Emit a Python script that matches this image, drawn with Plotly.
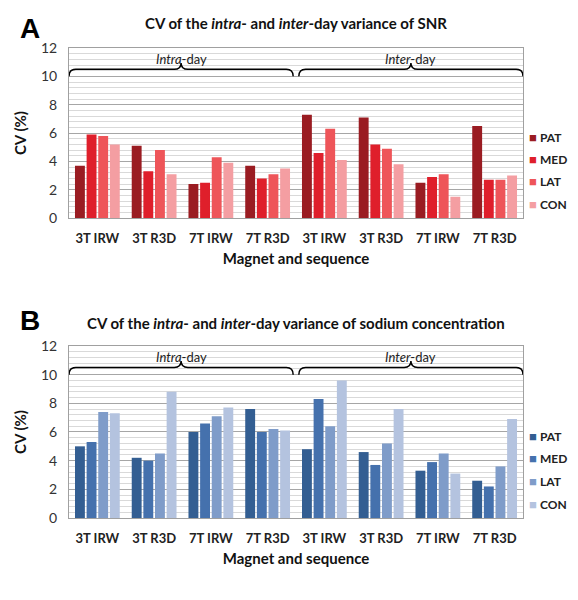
import plotly.graph_objects as go
from plotly.subplots import make_subplots

categories = ["3T IRW", "3T R3D", "7T IRW", "7T R3D", "3T IRW", "3T R3D", "7T IRW", "7T R3D"]
regions = ["PAT", "MED", "LAT", "CON"]

snr_pat = [3.7, 5.1, 2.4, 3.7, 7.3, 7.1, 2.5, 6.5]
snr_med = [5.9, 3.3, 2.5, 2.8, 4.6, 5.2, 2.9, 2.7]
snr_lat = [5.8, 4.8, 4.3, 3.1, 6.3, 4.9, 3.1, 2.7]
snr_con = [5.2, 3.1, 3.9, 3.5, 4.1, 3.8, 1.5, 3.0]

na_pat = [5.0, 4.2, 6.0, 7.6, 4.8, 4.6, 3.3, 2.6]
na_med = [5.3, 4.0, 6.6, 6.0, 8.3, 3.7, 3.9, 2.2]
na_lat = [7.4, 4.5, 7.1, 6.2, 6.4, 5.2, 4.5, 3.6]
na_con = [7.3, 8.8, 7.7, 6.1, 9.6, 7.6, 3.1, 6.9]

y_ticks = [0, 2, 4, 6, 8, 10, 12]
groups = ["<i>Intra</i>-day", "<i>Inter</i>-day"]

red_colors = ["#9A1C22", "#DF1F2B", "#EE5559", "#F49EA2"]
blue_colors = ["#335E92", "#4571AD", "#7F9CC9", "#B4C3DF"]

FONT = "Lato"
x_pos = list(range(len(categories)))

fig = make_subplots(rows=2, cols=1, vertical_spacing=0.27)

for row, series, colors in [
    (1, [snr_pat, snr_med, snr_lat, snr_con], red_colors),
    (2, [na_pat, na_med, na_lat, na_con], blue_colors),
]:
    for name, vals, col in zip(regions, series, colors):
        fig.add_trace(
            go.Bar(x=x_pos, y=vals, name=name, marker_color=col, marker_line_width=0,
                   showlegend=False),
            row=row, col=1,
        )
    xref = "x" if row == 1 else "x2"
    yref = "y" if row == 1 else "y2"
    # braces
    for gi, (x0, x1) in enumerate([(-0.5, 3.45), (3.55, 7.5)]):
        xm = (x0 + x1) / 2
        yb, yl, yt = 10.0, 10.5, 10.95
        d = 0.12
        path = (f"M {x0},{yb} Q {x0},{yl} {x0+d},{yl} L {xm-d},{yl} "
                f"Q {xm},{yl} {xm},{yt} Q {xm},{yl} {xm+d},{yl} "
                f"L {x1-d},{yl} Q {x1},{yl} {x1},{yb}")
        fig.add_shape(type="path", path=path, xref=xref, yref=yref,
                      line=dict(color="black", width=1.5))
        fig.add_annotation(x=xm, y=11.25, xref=xref, yref=yref, text=groups[gi],
                           showarrow=False, font=dict(family=FONT, size=13, color="#222"))
    # custom legend (y in axis units of the panel)
    for i, (name, col) in enumerate(zip(regions, colors)):
        fig.add_annotation(x=1.008, y=5.75 - i * 1.58, xref="paper", yref=yref,
                           text=f"<span style='color:{col};font-size:13px'>■</span> <b>{name}</b>",
                           showarrow=False, xanchor="left", yanchor="middle",
                           font=dict(family=FONT, size=12, color="#222"))

fig.update_layout(
    width=578, height=600,
    margin=dict(l=56, r=63, t=40, b=90),
    paper_bgcolor="white", plot_bgcolor="white",
    barmode="group", bargap=0.18, bargroupgap=0.15,
    font=dict(family=FONT, color="#222"),
    showlegend=False,
)

for row in (1, 2):
    fig.update_yaxes(range=[0, 12], tickvals=y_ticks, showgrid=True, gridcolor="#A6A6A6",
                     gridwidth=1, minor=dict(dtick=0.4, showgrid=True, gridcolor="#D9D9D9", gridwidth=1),
                     showline=True, linecolor="#A0A0A0", mirror=True, ticks="",
                     ticklabelstandoff=8,
                     tickfont=dict(size=14, family=FONT, color="#333"),
                     title=dict(text="<b>CV (%)</b>", font=dict(size=15, family=FONT, color="#111"), standoff=10),
                     zeroline=False, row=row, col=1)
    fig.update_xaxes(range=[-0.5, 7.5], tickvals=x_pos, ticktext=[f"<b>{c}</b>" for c in categories],
                     showline=True, linecolor="#A0A0A0", mirror=True, showgrid=False,
                     ticklabelstandoff=8,
                     tickfont=dict(size=13, family=FONT, color="#222"),
                     title=dict(text="<b>Magnet and sequence</b>", font=dict(size=15, family=FONT, color="#111"), standoff=8),
                     row=row, col=1)

fig.update_yaxes(domain=[0.638, 1.0], row=1, col=1)
fig.update_yaxes(domain=[0.0, 0.366], row=2, col=1)

titles = [
    ("CV of the <i>intra</i>- and <i>inter</i>-day variance of SNR", 1.053, "A", 1.042),
    ("CV of the <i>intra</i>- and <i>inter</i>-day variance of sodium concentration", 0.415, "B", 0.42),
]
for text, ty, letter, ly in titles:
    fig.add_annotation(x=0.5, y=ty, xref="paper", yref="paper", text=f"<b>{text}</b>",
                       showarrow=False, xanchor="center", yanchor="middle",
                       font=dict(size=15, family=FONT, color="#111"))
    fig.add_annotation(x=-0.085, y=ly, xref="paper", yref="paper", text=f"<b>{letter}</b>",
                       showarrow=False, xanchor="center", yanchor="middle",
                       font=dict(size=28, family="Liberation Sans", color="#000"))

fig.write_html("out.html")
